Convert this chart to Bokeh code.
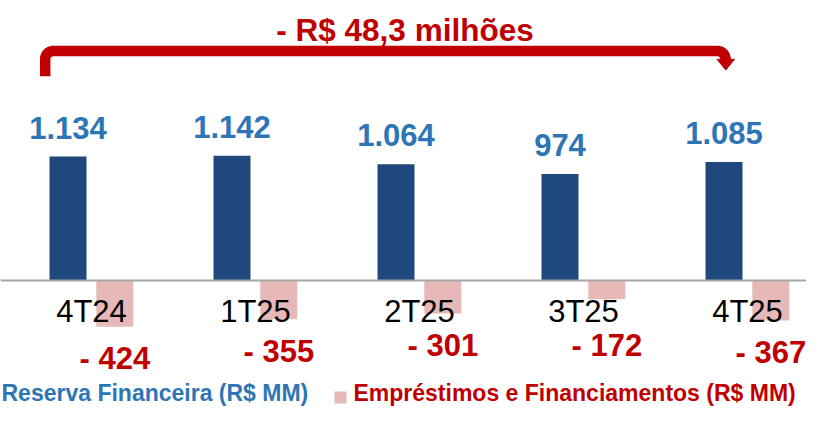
import numpy as np
from bokeh.plotting import figure
from bokeh.models import Range1d, Span
from bokeh.core.properties import value
from bokeh.embed import file_html
from bokeh.resources import INLINE

# ---- data ----
categories = ["4T24", "1T25", "2T25", "3T25", "4T25"]
reserva = [1134, 1142, 1064, 974, 1085]
emprestimos = [-424, -355, -301, -172, -367]
title_text = "- R$ 48,3 milhões"
legend_labels = ["Reserva Financeira (R$ MM)", "Empréstimos e Financiamentos (R$ MM)"]

# ---- styling / layout ----
NAVY = "#1F497D"
PINK = "#E6B9B8"
RED = "#C00000"
BLUE_TXT = "#2E75B6"
FONT = "Liberation Sans"

W, H = 806, 409
ZERO_PX = 280.0
PX_PER_UNIT = 0.1093
X0_PX = 91.0
GROUP_PX = 164.0
DY = -11  # renderer baseline correction (px)


def px_x(px):
    return (np.asarray(px, dtype=float) - X0_PX) / GROUP_PX


def px_y(py):
    return (ZERO_PX - np.asarray(py, dtype=float)) / PX_PER_UNIT


p = figure(width=W, height=H, output_backend="svg", toolbar_location=None,
           x_range=Range1d(float(px_x(0)), float(px_x(W))),
           y_range=Range1d(float(px_y(H)), float(px_y(0))),
           x_axis_location=None, y_axis_location=None,
           min_border=0, outline_line_color=None,
           background_fill_color="white", border_fill_color="white")
p.grid.grid_line_color = None

idx = np.arange(len(categories))
BAR_W = 37 / GROUP_PX
OFF_B = -23.5 / GROUP_PX
OFF_P = 23.3 / GROUP_PX

p.vbar(x=idx + OFF_B, top=reserva, bottom=0, width=BAR_W,
       fill_color=NAVY, line_color=None)
p.vbar(x=idx + OFF_P, top=0, bottom=emprestimos, width=BAR_W,
       fill_color=PINK, line_color=None)

p.add_layout(Span(location=0, dimension="width", line_color="#A6A6A6", line_width=2))

# value labels
res_txt = [f"{v:,}".replace(",", ".") for v in reserva]
p.text(x=idx + OFF_B, y=reserva, text=res_txt, text_align="center",
       text_baseline="alphabetic", y_offset=-18 + DY,
       text_font=value(FONT), text_font_style="bold", text_font_size="31px",
       text_color=BLUE_TXT)

emp_txt = [f"- {abs(v)}" for v in emprestimos]
emp_y = np.minimum(np.array(emprestimos), -300)
p.text(x=idx + OFF_P, y=emp_y, text=emp_txt, text_align="center",
       text_baseline="alphabetic", y_offset=43 + DY,
       text_font=value(FONT), text_font_style="bold", text_font_size="31px",
       text_color=RED)

# category labels
p.text(x=idx, y=np.zeros(len(idx)), text=categories, text_align="center",
       text_baseline="alphabetic", y_offset=42 + DY,
       text_font=value(FONT), text_font_size="31px", text_color="black")

# bracket arrow
xl, xr, yh, yb, r = 44.7, 725.0, 50.5, 75.7, 8.0
t1 = np.linspace(np.pi, 1.5 * np.pi, 12)
t2 = np.linspace(1.5 * np.pi, 2 * np.pi, 12)
bx = np.concatenate([[xl], (xl + r) + r * np.cos(t1), (xr - r) + r * np.cos(t2), [xr]])
by = np.concatenate([[yb], (yh + r) + r * np.sin(t1), (yh + r) + r * np.sin(t2), [60.0]])
p.line(px_x(bx), px_y(by), line_color=RED, line_width=10.5,
       line_join="round", line_cap="butt")
p.patch(px_x([716.5, 734.0, 725.3]), px_y([58.8, 58.8, 69.5]),
        fill_color=RED, line_color=RED, line_width=1)

p.text(x=[float(px_x(404.5))], y=[float(px_y(40 + DY))], text=[title_text],
       text_align="center", text_baseline="alphabetic",
       text_font=value(FONT), text_font_style="bold", text_font_size="31.5px",
       text_color=RED)

# legend
LEG_BASE = 403
p.text(x=[float(px_x(1))], y=[float(px_y(LEG_BASE + DY))], text=[legend_labels[0]],
       text_align="left", text_baseline="alphabetic",
       text_font=value(FONT), text_font_style="bold", text_font_size="23px",
       text_color=BLUE_TXT)
p.quad(left=[float(px_x(334))], right=[float(px_x(346))],
       top=[float(px_y(LEG_BASE - 12))], bottom=[float(px_y(LEG_BASE))],
       fill_color=PINK, line_color=None)
p.text(x=[float(px_x(353))], y=[float(px_y(LEG_BASE + DY))], text=[legend_labels[1]],
       text_align="left", text_baseline="alphabetic",
       text_font=value(FONT), text_font_style="bold", text_font_size="23px",
       text_color=RED)

open("out.html", "w").write(file_html(p, INLINE))
